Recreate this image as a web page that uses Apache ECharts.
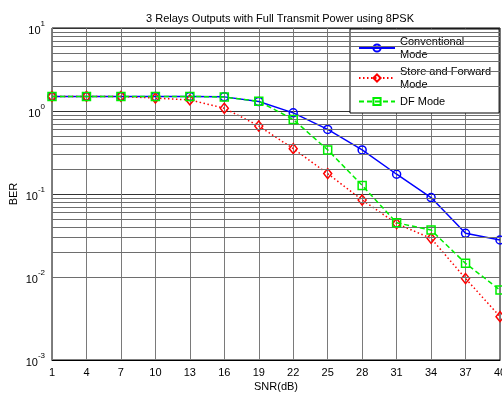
<!DOCTYPE html>
<html>
<head>
<meta charset="utf-8">
<script src="https://cdn.jsdelivr.net/npm/echarts@6/dist/echarts.min.js"></script>
<style>
  html, body { margin: 0; padding: 0; background: #fff; overflow: hidden; }
  #chart { width: 502px; height: 394px; }
</style>
</head>
<body>
<div id="chart"></div>
<script>
// SNR points (dB)
const snr = ['1', '4', '7', '10', '13', '16', '19', '22', '25', '28', '31', '34', '37', '40'];

// Bit error rate for each relaying scheme
const conventional = [1.5, 1.5, 1.5, 1.5, 1.5, 1.48, 1.3, 0.95, 0.60, 0.34, 0.173, 0.0905, 0.0336, 0.0279];
const storeForward = [1.5, 1.5, 1.5, 1.43, 1.36, 1.08, 0.66, 0.352, 0.176, 0.0847, 0.044, 0.0292, 0.0096, 0.00333];
const dfMode       = [1.5, 1.5, 1.5, 1.5, 1.5, 1.47, 1.31, 0.79, 0.34, 0.127, 0.045, 0.0368, 0.0146, 0.00697];

const seriesNames = ['Conventional\nMode', 'Store and Forward\nMode', 'DF Mode'];

// Decade bounds of the BER axis and the intermediate grid levels 2..9 x 10^k
const berMin = 0.001, berMax = 10;
const minorLevels = [];
for (let d = berMin; d < berMax; d *= 10) {
  for (let m = 2; m <= 9; m++) minorLevels.push(+(m * d).toPrecision(3));
}

const FONT = 'Liberation Sans, Arial, sans-serif';

const chart = echarts.init(document.getElementById('chart'), null, { renderer: 'canvas' });

chart.setOption({
  animation: false,
  backgroundColor: '#fff',
  title: {
    text: '3 Relays Outputs with Full Transmit Power using 8PSK',
    left: 275, textAlign: 'center', top: 8,
    textStyle: { fontFamily: FONT, fontSize: 11, fontWeight: 'normal', color: '#000' }
  },
  grid: {
    left: 52, right: 2, top: 28, bottom: 34,
    outerBoundsMode: 'none', containLabel: false,
    show: true, borderColor: '#000', borderWidth: 1, backgroundColor: 'transparent'
  },
  legend: {
    data: seriesNames,
    orient: 'vertical',
    left: 350, top: 29,
    backgroundColor: '#fff',
    borderColor: '#000', borderWidth: 1,
    padding: [6, 8, 5, 8],
    itemWidth: 36, itemHeight: 9, itemGap: 4,
    textStyle: { fontFamily: FONT, fontSize: 11, color: '#000', lineHeight: 13 }
  },
  xAxis: {
    type: 'category', data: snr, boundaryGap: false,
    name: 'SNR(dB)', nameLocation: 'middle', nameGap: 21, nameMoveOverlap: false,
    nameTextStyle: { fontFamily: FONT, fontSize: 11, color: '#000' },
    axisLine: { lineStyle: { color: '#000' } },
    axisTick: { show: false },
    axisLabel: { fontFamily: FONT, fontSize: 11, color: '#000', margin: 7 },
    splitLine: { show: true, lineStyle: { color: '#7a7a7a', width: 1 } }
  },
  yAxis: {
    type: 'log', logBase: 10, min: berMin, max: berMax,
    name: 'BER', nameLocation: 'middle', nameGap: 33, nameMoveOverlap: false,
    nameTextStyle: { fontFamily: FONT, fontSize: 11, color: '#000' },
    axisLine: { lineStyle: { color: '#000' } },
    axisTick: { show: false },
    axisLabel: {
      margin: 7,
      formatter: function (v) {
        const e = Math.round(Math.log10(v));
        return '{b|10}{s|' + e + '}';
      },
      rich: {
        b: { fontFamily: FONT, fontSize: 11, color: '#000', verticalAlign: 'bottom', lineHeight: 16 },
        s: { fontFamily: FONT, fontSize: 8, color: '#000', verticalAlign: 'top', lineHeight: 16 }
      }
    },
    splitLine: { show: true, lineStyle: { color: '#333', width: 1 } }
  },
  series: [
    {
      name: 'grid', type: 'line', data: [], silent: true, z: 1,
      markLine: {
        silent: true, symbol: 'none', animation: false,
        label: { show: false },
        lineStyle: { color: '#6e6e6e', type: 'solid', width: 1 },
        data: minorLevels.map(v => ({ yAxis: v }))
      }
    },
    {
      name: seriesNames[0], type: 'line', data: conventional, z: 3,
      color: '#0000ff',
      lineStyle: { color: '#0000ff', width: 1.5, type: 'solid' },
      symbol: 'circle', symbolSize: 8,
      itemStyle: { color: 'rgba(255,255,255,0)', borderColor: '#0000ff', borderWidth: 1.5 }
    },
    {
      name: seriesNames[1], type: 'line', data: storeForward, z: 4,
      color: '#ff0000',
      lineStyle: { color: '#ff0000', width: 1.5, type: [1.5, 2.5] },
      symbol: 'diamond', symbolSize: [8, 10],
      itemStyle: { color: 'rgba(255,255,255,0)', borderColor: '#ff0000', borderWidth: 1.5 }
    },
    {
      name: seriesNames[2], type: 'line', data: dfMode, z: 5,
      color: '#00ff00',
      lineStyle: { color: '#00ee00', width: 1.5, type: [5, 3] },
      symbol: 'rect', symbolSize: 8,
      itemStyle: { color: 'rgba(255,255,255,0)', borderColor: '#00ee00', borderWidth: 1.5 }
    }
  ]
});
</script>
</body>
</html>
